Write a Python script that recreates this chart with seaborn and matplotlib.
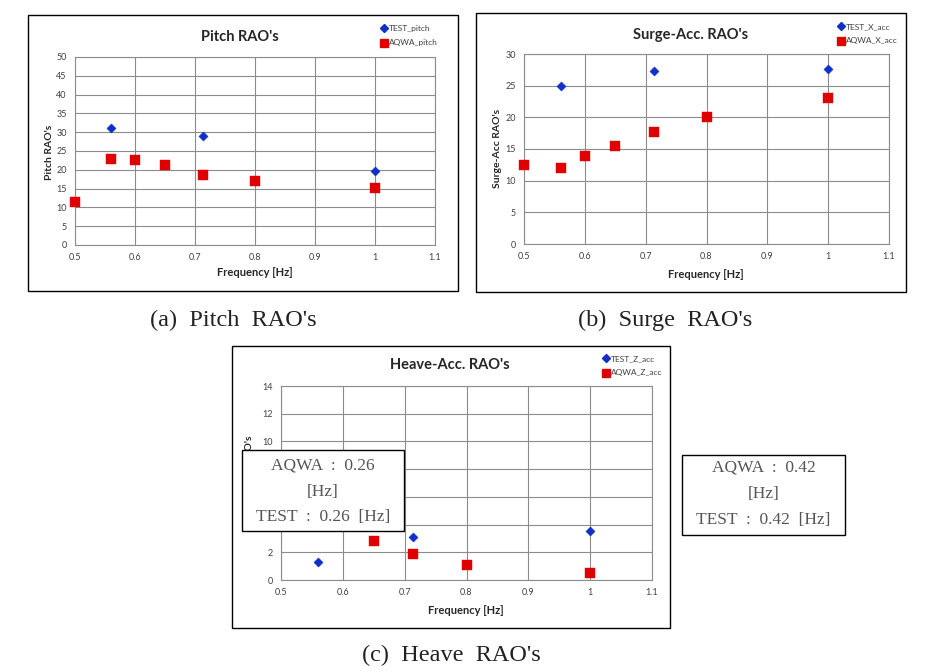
import matplotlib
matplotlib.use("Agg")
import matplotlib.pyplot as plt
from matplotlib.patches import Rectangle
from matplotlib.lines import Line2D
import seaborn as sns
import pandas as pd

sns.set_style("white")
plt.rcParams['font.family'] = ['Lato', 'DejaVu Sans']

# ---------------- data ----------------
pitch_test_f = [0.56, 0.714, 1.0]
pitch_test_v = [31.0, 29.0, 19.6]
pitch_aqwa_f = [0.5, 0.56, 0.6, 0.65, 0.714, 0.8, 1.0]
pitch_aqwa_v = [11.5, 22.9, 22.7, 21.3, 18.6, 17.0, 15.1]

surge_test_f = [0.56, 0.714, 1.0]
surge_test_v = [24.9, 27.3, 27.6]
surge_aqwa_f = [0.5, 0.56, 0.6, 0.65, 0.714, 0.8, 1.0]
surge_aqwa_v = [12.4, 12.0, 13.9, 15.5, 17.7, 20.0, 23.1]

heave_test_f = [0.56, 0.714, 1.0]
heave_test_v = [1.27, 3.1, 3.55]
heave_aqwa_f = [0.65, 0.714, 0.8, 1.0]
heave_aqwa_v = [2.8, 1.88, 1.1, 0.48]

x_ticks = [0.5, 0.6, 0.7, 0.8, 0.9, 1.0, 1.1]
x_tick_labels = ["0.5", "0.6", "0.7", "0.8", "0.9", "1", "1.1"]

W, H = 933, 672
fig = plt.figure(figsize=(W / 100, H / 100), dpi=100)

def fx(x):
    return x / W

def fy(y):
    return 1 - y / H

def add_box(x0, y0, x1, y1, lw=1.0):
    fig.patches.append(Rectangle((fx(x0), fy(y1)), fx(x1) - fx(x0), fy(y0) - fy(y1),
                                 transform=fig.transFigure, fill=False,
                                 edgecolor='black', linewidth=lw, zorder=-1))

BLUE = '#1030c8'
RED = '#e00000'
GRID = '#8c8c8c'

def panel(box, axrect, ylim, ystep, title, title_xy, ylabel, ylabel_xy, xlabel_xy,
          tf, tv, af, av, tname, aname, leg_xy):
    add_box(*box)
    x0, y0, x1, y1 = axrect
    ax = fig.add_axes([fx(x0), fy(y1), fx(x1) - fx(x0), fy(y0) - fy(y1)])
    ax.set_facecolor('white')
    dft = pd.DataFrame({'f': tf, 'v': tv})
    dfa = pd.DataFrame({'f': af, 'v': av})
    sns.scatterplot(data=dft, x='f', y='v', marker='D', s=22, color=BLUE,
                    edgecolor=BLUE, linewidth=0.3, ax=ax, zorder=5, clip_on=False)
    sns.scatterplot(data=dfa, x='f', y='v', marker='s', s=42, color=RED,
                    edgecolor=RED, linewidth=0.3, ax=ax, zorder=5, clip_on=False)
    ax.set_xlim(0.5, 1.1)
    ax.set_ylim(*ylim)
    ax.set_xticks(x_ticks)
    ax.set_xticklabels(x_tick_labels)
    yt = list(range(int(ylim[0]), int(ylim[1]) + 1, ystep))
    ax.set_yticks(yt)
    ax.set_yticklabels([str(t) for t in yt])
    ax.grid(True, color=GRID, linewidth=0.8)
    ax.set_axisbelow(True)
    for s in ax.spines.values():
        s.set_color(GRID)
        s.set_linewidth(0.8)
    ax.tick_params(axis='both', labelsize=6.5, colors='#404040', length=0, pad=6)
    ax.set_xlabel('')
    ax.set_ylabel('')
    fig.text(fx(title_xy[0]), fy(title_xy[1]), title, ha='center', va='center',
             fontsize=10.5, fontweight='bold')
    fig.text(fx(ylabel_xy[0]), fy(ylabel_xy[1]), ylabel, ha='center', va='center',
             rotation=90, fontsize=7.5, fontweight='bold')
    fig.text(fx(xlabel_xy[0]), fy(xlabel_xy[1]), 'Frequency [Hz]', ha='center',
             va='center', fontsize=8, fontweight='bold')
    handles = [Line2D([], [], marker='D', color=BLUE, linestyle='', markersize=4),
               Line2D([], [], marker='s', color=RED, linestyle='', markersize=5.5)]
    fig.legend(handles, [tname, aname], loc='upper left',
               bbox_to_anchor=(fx(leg_xy[0]), fy(leg_xy[1])), frameon=False,
               fontsize=6, handletextpad=0.1, handlelength=1.0, labelspacing=0.9,
               borderaxespad=0, borderpad=0, labelcolor='#404040')
    return ax

panel((28, 15, 458, 291), (75, 57, 435, 245), (0, 50), 5, "Pitch RAO's", (240, 37),
      "Pitch RAO's", (49, 152), (255, 273),
      pitch_test_f, pitch_test_v, pitch_aqwa_f, pitch_aqwa_v,
      'TEST_pitch', 'AQWA_pitch', (380, 25))

panel((476, 13, 906, 292), (524, 54, 889, 244), (0, 30), 5, "Surge-Acc. RAO's", (691, 35),
      "Surge-Acc RAO's", (498, 148), (706, 274),
      surge_test_f, surge_test_v, surge_aqwa_f, surge_aqwa_v,
      'TEST_X_acc', 'AQWA_X_acc', (837, 23))

panel((232, 346, 670, 628), (281, 386, 652, 580), (0, 14), 2, "Heave-Acc. RAO's", (450, 365),
      "Heave-Acc RAO's", (249, 477), (466, 611),
      heave_test_f, heave_test_v, heave_aqwa_f, heave_aqwa_v,
      'TEST_Z_acc', 'AQWA_Z_acc', (602, 355))

# annotation boxes (on top)
SERIF = ['Liberation Serif', 'DejaVu Serif']
def note_box(x0, y0, x1, y1, lines, ys):
    fig.patches.append(Rectangle((fx(x0), fy(y1)), fx(x1) - fx(x0), fy(y0) - fy(y1),
                                 transform=fig.transFigure, facecolor='white',
                                 edgecolor='black', linewidth=1.0, zorder=10))
    cx = (x0 + x1) / 2
    for t, yy in zip(lines, ys):
        fig.text(fx(cx), fy(yy), t, ha='center', va='center', fontsize=12.5,
                 color='#555555', family=SERIF, zorder=11)

note_box(242, 450, 404, 531, ['AQWA  :  0.26', '[Hz]', 'TEST  :  0.26  [Hz]'], [466, 492, 517])
note_box(682, 455, 845, 535, ['AQWA  :  0.42', '[Hz]', 'TEST  :  0.42  [Hz]'], [468, 494, 520])

# captions
CAP = dict(ha='center', va='center', fontsize=17.5, family=SERIF, color='#222222')
fig.text(fx(233), fy(320), "(a)  Pitch  RAO's", **CAP)
fig.text(fx(665), fy(320), "(b)  Surge  RAO's", **CAP)
fig.text(fx(451), fy(655), "(c)  Heave  RAO's", **CAP)

fig.savefig('out.png', dpi=100, facecolor='white')
